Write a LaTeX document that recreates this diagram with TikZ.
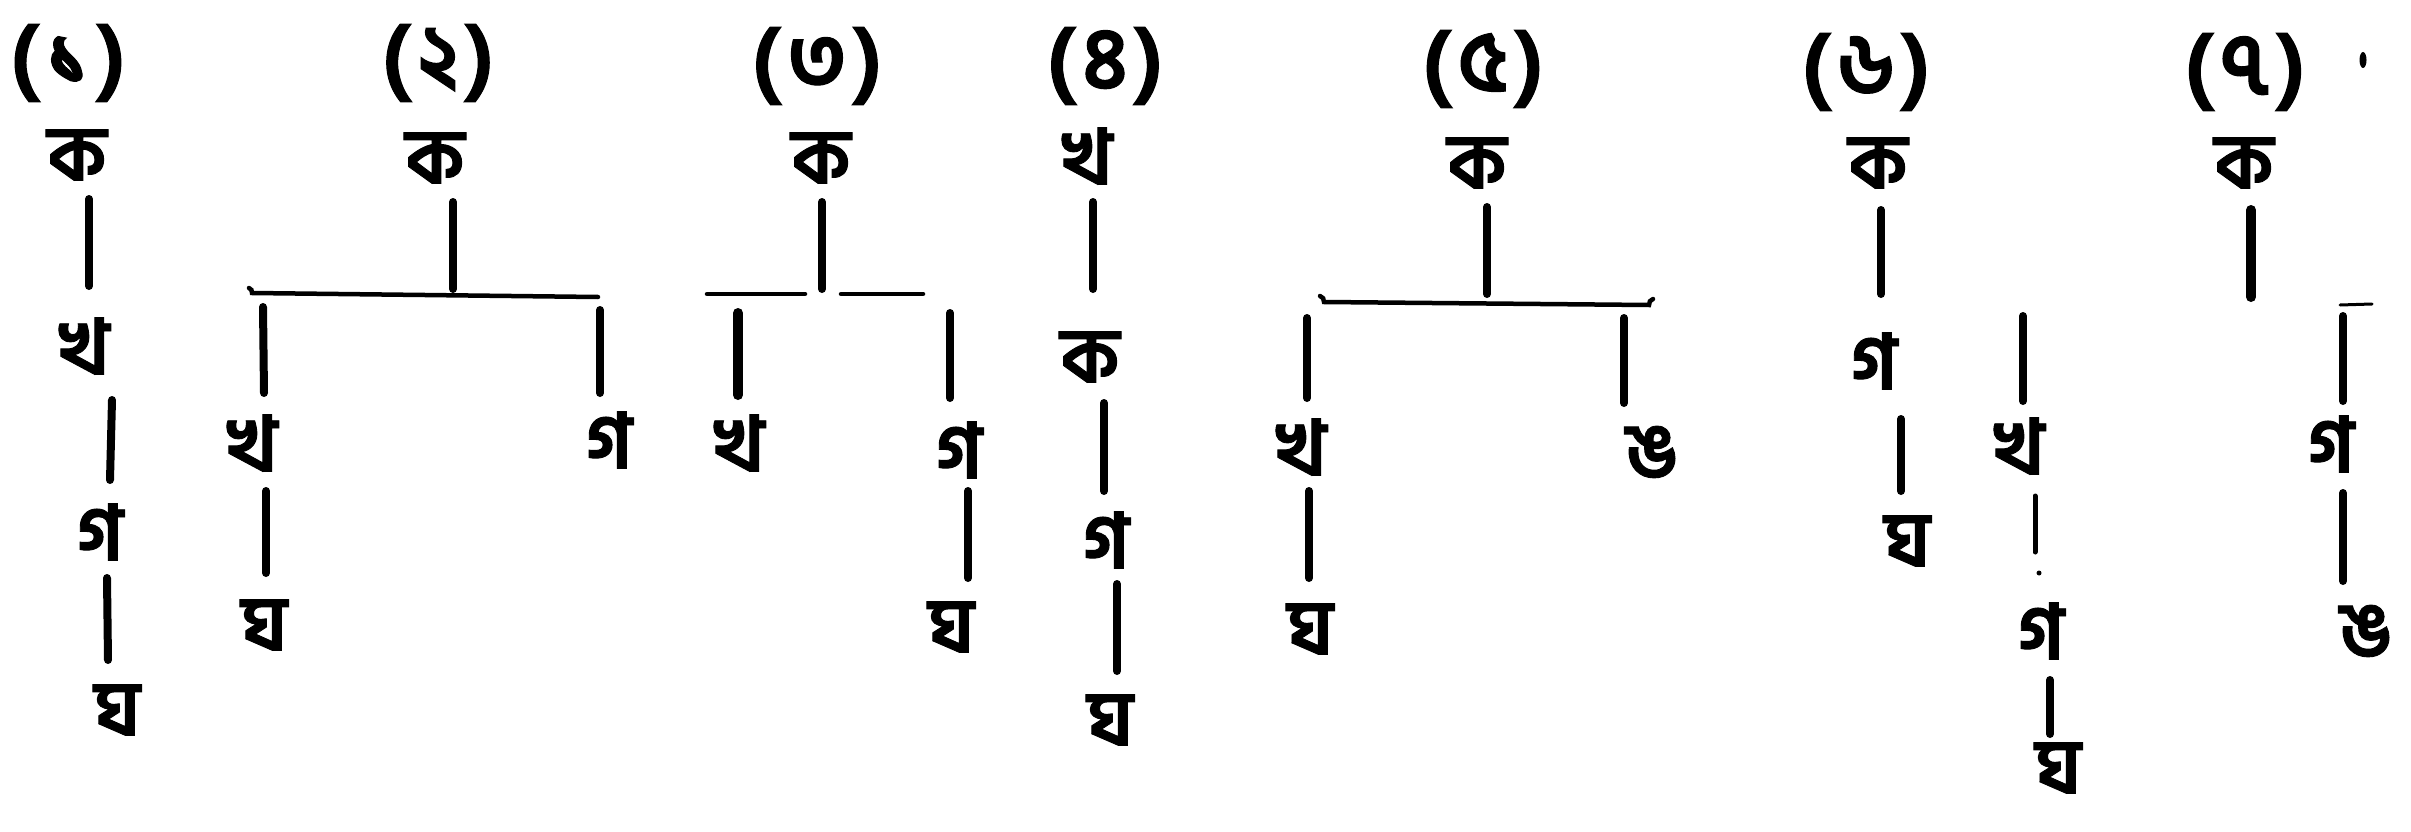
\documentclass[tikz,border=0pt]{standalone}
\usepackage{fontspec}
\newfontfamily\bn[Script=Bengali, BoldFeatures={FakeBold=1.2}]{Hind Siliguri}
\newcommand\pnum[1]{(\hspace{7pt}#1\hspace{7pt})}
\begin{document}
\begin{tikzpicture}[x=1pt,y=-1pt,
  lab/.style={font=\bn\bfseries\fontsize{77}{77}\selectfont, inner sep=0pt},
  num/.style={font=\bn\bfseries\fontsize{86}{86}\selectfont, inner sep=0pt},
  vl/.style={line width=8pt, line cap=round},
  vlt/.style={line width=5pt, line cap=round},
  hl/.style={line width=4.5pt, line cap=round}]
\useasboundingbox[fill=white] (0,0) rectangle (2411,832);
% ---------- tree 1
\node[num] (n1) at (68,63) {\pnum{১}};
\node[lab] (k1) at (77,155) {ক};
\node[lab] (kh1) at (84,346) {খ};
\node[lab] (g1) at (100,532) {গ};
\node[lab] (gh1) at (117,710) {ঘ};
\coordinate (a1) at (89,199); \coordinate (b1) at (89,286);
\coordinate (a2) at (112,400); \coordinate (b2) at (110,480);
\coordinate (a3) at (107,578); \coordinate (b3) at (108,660);
\draw[vl] (a1) -- (b1); \draw[vl] (a2) -- (b2); \draw[vl] (a3) -- (b3);
% ---------- tree 2
\node[num] (n2) at (438,63) {\pnum{২}};
\node[lab] (k2) at (435,158) {ক};
\node[lab] (kh2) at (252,443) {খ};
\node[lab] (gh2) at (264,625) {ঘ};
\node[lab] (g2) at (609,440) {গ};
\coordinate (c1) at (453,202); \coordinate (d1) at (453,289);
\coordinate (bl2) at (252,293); \coordinate (br2) at (598,297);
\coordinate (c2) at (263,307); \coordinate (d2) at (264,393);
\coordinate (c3) at (266,491); \coordinate (d3) at (266,573);
\coordinate (c4) at (600,310); \coordinate (d4) at (600,393);
\draw[vl] (c1) -- (d1);
\draw[hl] ([xshift=-3pt,yshift=5pt]bl2) to[bend left=40] (bl2) -- (br2);
\draw[vl] (c2) -- (d2); \draw[vl] (c3) -- (d3); \draw[vl] (c4) -- (d4);
% ---------- tree 3
\node[num] (n3) at (817,66) {\pnum{৩}};
\node[lab] (k3) at (821,158) {ক};
\node[lab] (kh3) at (739,443) {খ};
\node[lab] (g3) at (959,450) {গ};
\node[lab] (gh3) at (951,627) {ঘ};
\coordinate (e1) at (822,202); \coordinate (f1) at (822,289);
\coordinate (bl3) at (707,294); \coordinate (bm3) at (805,294);
\coordinate (bn3) at (841,294); \coordinate (br3) at (923,294);
\coordinate (e2) at (738,313); \coordinate (f2) at (738,395);
\coordinate (e3) at (950,313); \coordinate (f3) at (950,398);
\coordinate (e4) at (968,491); \coordinate (f4) at (968,578);
\draw[vl] (e1) -- (f1);
\draw[hl] (bl3) -- (bm3); \draw[hl] (bn3) -- (br3);
\draw[vl, line width=10pt] (e2) -- (f2);
\draw[vl] (e3) -- (f3); \draw[vl] (e4) -- (f4);
% ---------- tree 4
\node[num] (n4) at (1105,66) {\pnum{৪}};
\node[lab] (kh4) at (1087,156) {খ};
\node[lab] (k4) at (1090,357) {ক};
\node[lab] (g4) at (1106,540) {গ};
\node[lab] (gh4) at (1110,720) {ঘ};
\coordinate (p1) at (1093,202); \coordinate (q1) at (1093,289);
\coordinate (p2) at (1104,403); \coordinate (q2) at (1104,491);
\coordinate (p3) at (1117,584); \coordinate (q3) at (1117,671);
\draw[vl] (p1) -- (q1); \draw[vl] (p2) -- (q2); \draw[vl] (p3) -- (q3);
% ---------- tree 5
\node[num] (n5) at (1483,69) {\pnum{৫}};
\node[lab] (k5) at (1477,163) {ক};
\node[lab] (kh5) at (1301,447) {খ};
\node[lab] (gh5) at (1310,629) {ঘ};
\node[lab] (ng5) at (1652,452) {ঙ};
\coordinate (r1) at (1487,207); \coordinate (s1) at (1487,294);
\coordinate (bl5) at (1324,302); \coordinate (br5) at (1649,305);
\coordinate (r2) at (1307,318); \coordinate (s2) at (1307,398);
\coordinate (r3) at (1309,491); \coordinate (s3) at (1309,578);
\coordinate (r4) at (1624,318); \coordinate (s4) at (1624,403);
\draw[vl] (r1) -- (s1);
\draw[hl] ([xshift=-4pt,yshift=6pt]bl5) to[bend left=40] (bl5) -- (br5) to[bend left=40] ([xshift=4pt,yshift=6pt]br5);
\draw[vl] (r2) -- (s2); \draw[vl] (r3) -- (s3); \draw[vl] (r4) -- (s4);
% ---------- tree 6
\node[num] (n6) at (1866,72) {\pnum{৬}};
\node[lab] (k6) at (1878,163) {ক};
\node[lab] (g6) at (1874,361) {গ};
\node[lab] (gh6) at (1907,541) {ঘ};
\node[lab] (kh6) at (2019,446) {খ};
\node[lab] (g6b) at (2041,631) {গ};
\node[lab] (gh6b) at (2058,768) {ঘ};
\coordinate (t1) at (1881,210); \coordinate (u1) at (1881,294);
\coordinate (t2) at (1901,419); \coordinate (u2) at (1901,491);
\coordinate (t3) at (2023,316); \coordinate (u3) at (2023,401);
\coordinate (t4) at (2035,496); \coordinate (u4) at (2035,552);
\coordinate (t5) at (2050,680); \coordinate (u5) at (2050,734);
\draw[vl] (t1) -- (u1); \draw[vl] (t2) -- (u2); \draw[vl] (t3) -- (u3);
\draw[vlt] (t4) -- (u4); \draw[vl] (t5) -- (u5);
\fill (2039,573) circle[radius=2.5];
% ---------- tree 7
\node[num] (n7) at (2245,72) {\pnum{৭}};
\fill (2363,60) ellipse[x radius=3.5, y radius=8];
\node[lab] (k7) at (2244,163) {ক};
\node[lab] (g7) at (2331,444) {গ};
\node[lab] (ng7) at (2366,631) {ঙ};
\coordinate (v1) at (2251,210); \coordinate (w1) at (2251,297);
\coordinate (bl7) at (2340,305); \coordinate (br7) at (2372,304);
\coordinate (v2) at (2343,316); \coordinate (w2) at (2343,401);
\coordinate (v3) at (2343,493); \coordinate (w3) at (2343,581);
\draw[vl, line width=10pt] (v1) -- (w1);
\draw[hl, line width=3pt] (bl7) -- (br7);
\draw[vl] (v2) -- (w2); \draw[vl] (v3) -- (w3);
\end{tikzpicture}
\end{document}
